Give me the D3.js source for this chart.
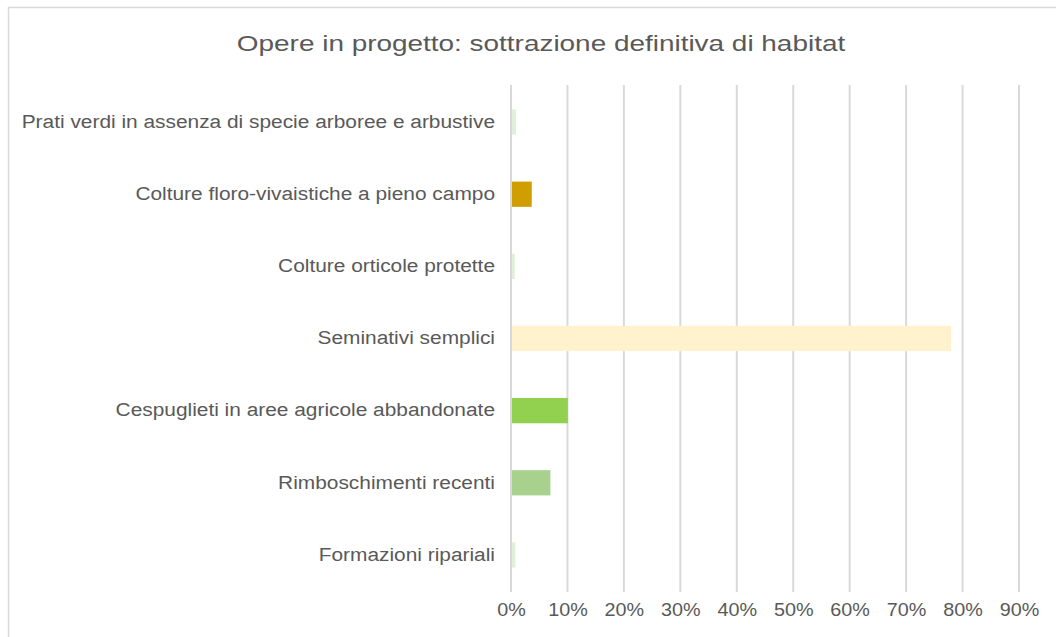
<!DOCTYPE html>
<html>
<head>
<meta charset="utf-8">
<script src="https://cdn.jsdelivr.net/npm/d3@7"></script>
<style>
  body { margin: 0; background: #fff; }
  text { font-family: "Liberation Sans", Arial, sans-serif; fill: #595959; }
</style>
</head>
<body>
<div id="container"></div>
<script>
// data
let categories = [
  "Prati verdi in assenza di specie arboree e arbustive",
  "Colture floro-vivaistiche a pieno campo",
  "Colture orticole protette",
  "Seminativi semplici",
  "Cespuglieti in aree agricole abbandonate",
  "Rimboschimenti recenti",
  "Formazioni ripariali"
];
let values = [0.007, 0.035, 0.005, 0.778, 0.099, 0.068, 0.006];
let colors = ["#E2EFDA", "#D09E00", "#E2EFDA", "#FFF2CC", "#92D050", "#A9D18E", "#E2EFDA"];
let ticks = [0, 0.1, 0.2, 0.3, 0.4, 0.5, 0.6, 0.7, 0.8, 0.9];
let title = "Opere in progetto: sottrazione definitiva di habitat";

let viz = d3.select("#container")
  .append("svg")
    .attr("width", 1056)
    .attr("height", 637);

// chart frame
viz.append("rect")
    .attr("x", 8.5)
    .attr("y", 7.5)
    .attr("width", 1070)
    .attr("height", 650)
    .attr("fill", "white")
    .attr("stroke", "#d9d9d9")
    .attr("stroke-width", 1.5);

let x = d3.scaleLinear()
    .domain([0, 0.9])
    .range([511, 1019]);

let y = d3.scaleBand()
    .domain(categories)
    .range([86, 591])
    .paddingInner(0.65)
    .paddingOuter(0.325);

// title (text is drawn a bit wider, like the original)
viz.append("g")
    .attr("transform", "translate(541,51) scale(1.27,1)")
  .append("text")
    .text(title)
    .attr("text-anchor", "middle")
    .attr("font-size", 22);

// gridlines
viz.append("g")
    .selectAll("line")
    .data(ticks)
    .join("line")
      .attr("x1", d => x(d))
      .attr("x2", d => x(d))
      .attr("y1", 85)
      .attr("y2", 592)
      .attr("stroke", "#d9d9d9")
      .attr("stroke-width", 2);

// x axis labels
let xAxis = d3.axisBottom(x)
    .tickValues(ticks)
    .tickFormat(d3.format(".0%"))
    .tickSize(0)
    .tickPadding(10);

let gx = viz.append("g")
    .attr("transform", "translate(0,593)")
    .call(xAxis);
gx.select(".domain").remove();
gx.selectAll("text")
    .attr("font-size", 18)
    .attr("fill", "#595959")
    .attr("transform", "scale(1.1,1)")
    .style("font-family", "Liberation Sans, Arial, sans-serif");

// y axis labels
let yAxis = d3.axisLeft(y)
    .tickSize(0)
    .tickPadding(0);

let gy = viz.append("g")
    .attr("transform", "translate(495,0) scale(1.16,1)")
    .call(yAxis);
gy.select(".domain").remove();
gy.selectAll("text")
    .attr("font-size", 18)
    .attr("fill", "#595959")
    .style("font-family", "Liberation Sans, Arial, sans-serif");

// bars
viz.append("g")
    .selectAll("rect")
    .data(values)
    .join("rect")
      .attr("x", x(0) + 1)
      .attr("y", (d, i) => y(categories[i]))
      .attr("width", d => x(d) - x(0))
      .attr("height", y.bandwidth())
      .attr("fill", (d, i) => colors[i]);
</script>
</body>
</html>
